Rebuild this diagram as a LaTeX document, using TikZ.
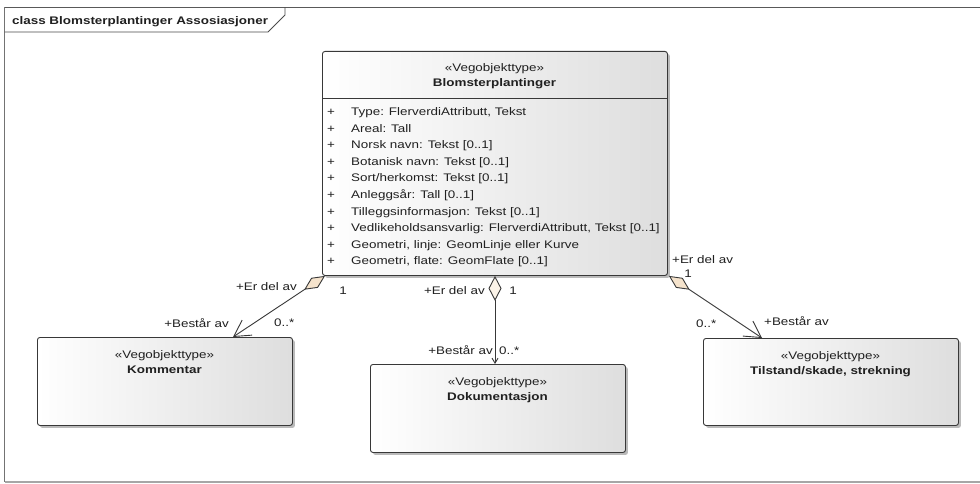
\documentclass[tikz,border=0pt]{standalone}
\usepackage{fontspec}
\setmainfont{Liberation Sans}[FakeStretch=1.22]
\usetikzlibrary{arrows.meta,shadows,calc}
\definecolor{diam}{HTML}{F5E3CC}
\definecolor{diamlight}{HTML}{FBF3E8}
\definecolor{edge}{HTML}{383838}
\definecolor{txt}{HTML}{202020}
\tikzset{
  Aggr/.tip={Diamond[length=25pt,width=12pt,fill=diam,line width=0.9pt]},
  AggrL/.tip={Diamond[length=25pt,width=13pt,fill=diamlight,line width=0.9pt]},
  OpenHd/.tip={Straight Barb[length=16pt,width=18pt,line width=0.9pt]},
  SmallHd/.tip={Straight Barb[length=5pt,width=6pt,line width=0.9pt]}
}
\begin{document}
\begin{tikzpicture}[x=1pt,y=-1pt,
  font=\fontsize{11}{13}\selectfont,
  classbox/.style={draw=edge, line width=0.9pt, rounded corners=2.5pt,
    left color=white, right color=black!13, anchor=north west, inner sep=0pt,
    drop shadow={shadow xshift=2.5pt,shadow yshift=-2.5pt,fill=black!60,opacity=.45}},
  lbl/.style={inner sep=0pt, text=txt},
  conn/.style={draw=edge, line width=0.9pt}
]
\fill[white] (0,0) rectangle (980,484);
\useasboundingbox (0,0) rectangle (980,484);
% frame
\coordinate (ftl) at (4.5,7.5);
\coordinate (ftr) at (980,7.5);
\coordinate (fbl) at (4.5,482);
\coordinate (fbr) at (980,482);
\draw[black!65, line width=1.6pt] (ftr) -- (ftl);
\draw[black!55, line width=1.1pt] (ftl) -- (fbl);
\draw[black!35, line width=1.4pt] (fbl) -- (fbr);
\coordinate (tab1) at (285,7.5);
\coordinate (tab2) at (285,15);
\coordinate (tab3) at (268,32);
\coordinate (tab4) at (4.5,32);
\draw[black!70, line width=0.9pt] (tab1) -- (tab2) -- (tab3) -- (tab4);
\node[lbl, anchor=base west, font=\fontsize{11}{13}\selectfont\bfseries] (title) at (12,25) {class Blomsterplantinger Assosiasjoner};

% main class
\node[classbox, minimum width=345pt, minimum height=224pt] (main) at (322,51) {};
\draw[edge, line width=0.9pt] ($(main.north west)+(0,47)$) -- ($(main.north east)+(0,47)$);
\node[lbl, anchor=base] (mst) at (494.5,72) {«Vegobjekttype»};
\node[lbl, anchor=base, font=\fontsize{11}{13}\selectfont\bfseries] (mname) at (494.5,87) {Blomsterplantinger};
\foreach \t [count=\i from 0] in {
  {Type: FlerverdiAttributt, Tekst},
  {Areal: Tall},
  {Norsk navn: Tekst [0..1]},
  {Botanisk navn: Tekst [0..1]},
  {Sort/herkomst: Tekst [0..1]},
  {Anleggsår: Tall [0..1]},
  {Tilleggsinformasjon: Tekst [0..1]},
  {Vedlikeholdsansvarlig: FlerverdiAttributt, Tekst [0..1]},
  {Geometri, linje: GeomLinje eller Kurve},
  {Geometri, flate: GeomFlate [0..1]}} {
  \node[lbl, anchor=base] (plus\i) at (331,116+16.5*\i) {+};
  \node[lbl, anchor=base west] (attr\i) at (351,116+16.5*\i) {\t};
}

% other classes
\node[classbox, minimum width=255pt, minimum height=88pt] (kom) at (37,337) {};
\node[lbl, anchor=base] (kst) at (164.5,358) {«Vegobjekttype»};
\node[lbl, anchor=base, font=\fontsize{11}{13}\selectfont\bfseries] (kname) at (164.5,373) {Kommentar};

\node[classbox, minimum width=255pt, minimum height=88pt] (dok) at (370,364) {};
\node[lbl, anchor=base] (dst) at (497.5,385) {«Vegobjekttype»};
\node[lbl, anchor=base, font=\fontsize{11}{13}\selectfont\bfseries] (dname) at (497.5,400) {Dokumentasjon};

\node[classbox, minimum width=255pt, minimum height=87pt] (til) at (703,338) {};
\node[lbl, anchor=base] (tst) at (830.5,359) {«Vegobjekttype»};
\node[lbl, anchor=base, font=\fontsize{11}{13}\selectfont\bfseries] (tname) at (830.5,374) {Tilstand/skade, strekning};

% connectors
\coordinate (aL) at ($(main.south west)+(3,0)$);
\coordinate (bL) at ($(kom.north west)+(196,0)$);
\draw[conn, Aggr-OpenHd] (aL) -- (bL);
\coordinate (aM) at ($(main.south west)+(173,0)$);
\coordinate (bM) at ($(dok.north west)+(125,0)$);
\draw[conn, AggrL-SmallHd] (aM) -- (bM);
\coordinate (aR) at ($(main.south east)+(1,0)$);
\coordinate (bR) at ($(til.north west)+(59,0)$);
\draw[conn, Aggr-OpenHd] (aR) -- (bR);

% labels
\node[lbl, anchor=base east] (l1) at (297,290) {+Er del av};
\node[lbl, anchor=base] (l2) at (343,294) {1};
\node[lbl, anchor=base east] (l3) at (229,327) {+Består av};
\node[lbl, anchor=base west] (l4) at (274,326) {0..*};

\node[lbl, anchor=base east] (m1) at (485,294) {+Er del av};
\node[lbl, anchor=base] (m2) at (513,294) {1};
\node[lbl, anchor=base east] (m3) at (493,354) {+Består av};
\node[lbl, anchor=base west] (m4) at (499,354) {0..*};

\node[lbl, anchor=base west] (r1) at (672,263) {+Er del av};
\node[lbl, anchor=base] (r2) at (688,277) {1};
\node[lbl, anchor=base west] (r3) at (696,327) {0..*};
\node[lbl, anchor=base west] (r4) at (764,325) {+Består av};
\end{tikzpicture}
\end{document}
